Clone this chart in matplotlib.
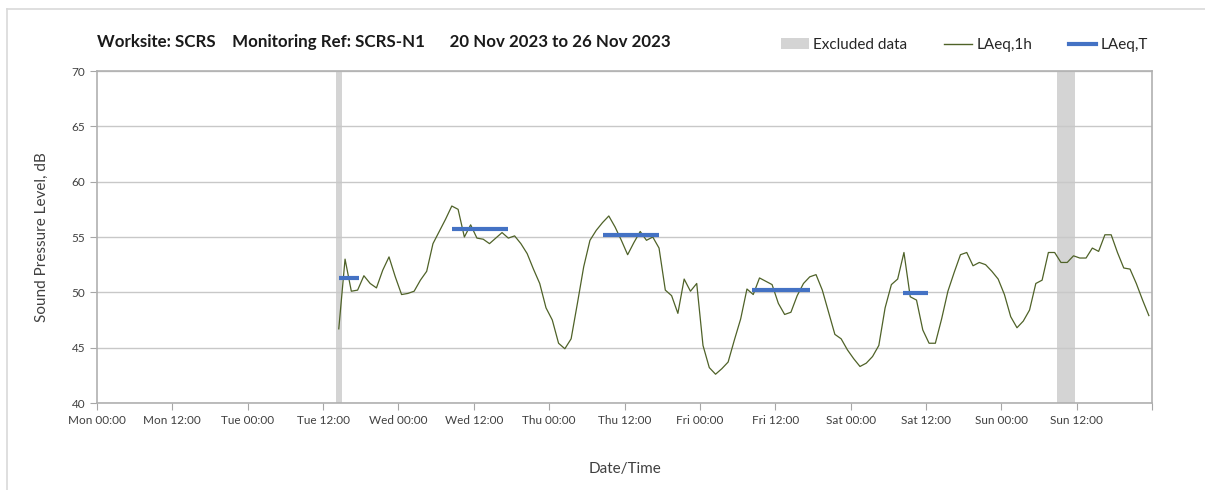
#LAeq noise monitoring chart, SCRS-N1, one week
import pandas as pd
import matplotlib
matplotlib.use('Agg')
import matplotlib.pyplot as plt
import matplotlib.dates as mdates
from matplotlib.patches import Patch
from matplotlib.lines import Line2D

plt.rcParams['font.family'] = ['Lato', 'DejaVu Sans']

# hourly LAeq,1h readings, first one at Tue 21 Nov 14:30
first_reading = '2023-11-21 14:30'
laeq_1h = [46.7, 53.0, 50.1, 50.2, 51.5, 50.8, 50.4, 52.0, 53.2, 51.4,
           49.8, 49.9, 50.1, 51.1, 51.9, 54.4, 55.5, 56.6, 57.8, 57.5,
           55.0, 56.1, 54.9, 54.8, 54.4, 54.9, 55.4, 54.9, 55.1, 54.4,
           53.5, 52.1, 50.8, 48.6, 47.5, 45.4, 44.9, 45.8, 49.0, 52.3,
           54.7, 55.6, 56.3, 56.9, 55.9, 54.7, 53.4, 54.5, 55.5, 54.7,
           55.0, 54.0, 50.2, 49.7, 48.1, 51.2, 50.1, 50.8, 45.2,
           43.2, 42.6, 43.1, 43.7, 45.7, 47.6, 50.3, 49.8, 51.3, 51.0,
           50.7, 49.0, 48.0, 48.2, 49.7, 50.8, 51.4, 51.6, 50.2, 48.2,
           46.2, 45.8, 44.8, 44.0, 43.3, 43.6, 44.2, 45.2, 48.6, 50.7,
           51.2, 53.6, 49.6, 49.3, 46.6, 45.4, 45.4, 47.6, 50.1, 51.8,
           53.4, 53.6, 52.4, 52.7, 52.5, 51.9, 51.2, 49.8, 47.8, 46.8,
           47.4, 48.4, 50.8, 51.1, 53.6, 53.6, 52.7, 52.7, 53.3, 53.1,
           53.1, 54.0, 53.7, 55.2, 55.2, 53.6, 52.2, 52.1, 50.8, 49.3,
           47.9]

# LAeq,T over each assessment period
t_start = ['2023-11-21 14:30', '2023-11-22 08:30', '2023-11-23 08:30',
           '2023-11-24 08:20', '2023-11-25 08:20']
t_end = ['2023-11-21 17:40', '2023-11-22 17:30', '2023-11-23 17:30',
         '2023-11-24 17:30', '2023-11-25 12:20']
laeq_t = [51.3, 55.7, 55.2, 50.2, 49.9]

# excluded periods
excl_start = ['2023-11-21 14:00', '2023-11-26 08:50']
excl_end = ['2023-11-21 15:05', '2023-11-26 11:40']

week_start = pd.Timestamp('2023-11-20 00:00')
week_end = pd.Timestamp('2023-11-27 00:00')

times = pd.date_range(first_reading, periods=len(laeq_1h), freq='h')

fig = plt.figure(figsize=(12.05, 4.9), dpi=100)
ax = fig.add_axes([97/1205, 1-403/490, (1152-97)/1205, (403-71)/490])

for s, e in zip(excl_start, excl_end):
    ax.axvspan(pd.Timestamp(s), pd.Timestamp(e), color='#d4d4d4', lw=0, zorder=1)

ax.plot(times, laeq_1h, color='#4f6228', lw=0.9, zorder=3)
for s, e, v in zip(t_start, t_end, laeq_t):
    ax.plot([pd.Timestamp(s), pd.Timestamp(e)], [v, v], color='#4472c4', lw=3,
            solid_capstyle='butt', zorder=4)

ax.set_xlim(week_start, week_end)
ax.set_ylim(40, 70)
ax.set_yticks(range(40, 71, 5))

fmt = mdates.DateFormatter('%a %H:%M')
end_num = mdates.date2num(week_end)
def xlabel_fmt(x, pos=None):
    # last tick (next Monday) has no label
    if x >= end_num - 1e-6:
        return ''
    return fmt(x, pos)

ax.xaxis.set_major_locator(mdates.HourLocator(byhour=[0, 12]))
ax.xaxis.set_major_formatter(plt.FuncFormatter(xlabel_fmt))
ax.xaxis.set_minor_locator(mdates.HourLocator(byhour=[0]))

ax.grid(axis='y', color='#c8c8c8', lw=1, zorder=0)
ax.grid(axis='x', which='minor', color='#dcdcdc', lw=1, zorder=0)
ax.tick_params(axis='x', which='minor', length=0)
ax.tick_params(axis='both', which='major', length=5, color='#a6a6a6',
               labelsize=8.5, labelcolor='#404040')
for sp in ax.spines.values():
    sp.set_color('#b0b0b0')
    sp.set_linewidth(1.2)

ax.set_ylabel('Sound Pressure Level, dB', fontsize=11, color='#404040', labelpad=16)
ax.set_xlabel('Date/Time', fontsize=11, color='#404040', labelpad=26)

fig.text(97/1205, 1-42/490, 'Worksite: SCRS    Monitoring Ref: SCRS-N1      20 Nov 2023 to 26 Nov 2023',
         fontsize=12.2, fontweight='bold', color='#1a1a1a', va='center', ha='left')

handles = [Patch(facecolor='#d4d4d4', edgecolor='none'),
           Line2D([], [], color='#4f6228', lw=1),
           Line2D([], [], color='#4472c4', lw=3)]
fig.legend(handles, ['Excluded data', 'LAeq,1h', 'LAeq,T'], ncol=3, frameon=False,
           loc='center right', bbox_to_anchor=(1162/1205, 1-45/490), fontsize=11,
           handlelength=1.8, handletextpad=0.3, columnspacing=2.4,
           labelcolor='#262626')

# outer chart frame (top and left edges only visible)
fig.add_artist(Line2D([7/1205, 1], [1-9/490, 1-9/490], color='#d9d9d9', lw=1.2))
fig.add_artist(Line2D([7/1205, 7/1205], [0, 1-9/490], color='#d9d9d9', lw=1.2))

plt.savefig('out.png', dpi=100)
